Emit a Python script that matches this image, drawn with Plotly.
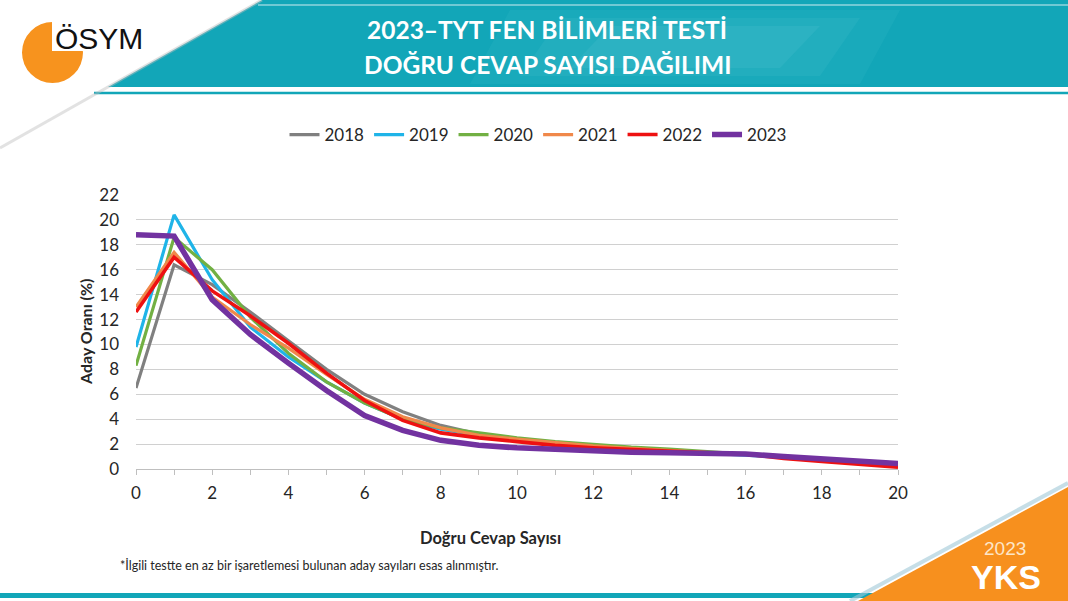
import plotly.graph_objects as go

# data
dogru_cevap = list(range(21))
yillar = ["2018", "2019", "2020", "2021", "2022", "2023"]
oran_2018 = [6.5, 16.4, 14.8, 12.6, 10.3, 8.0, 6.0, 4.6, 3.5, 2.8, 2.4, 2.1, 1.85, 1.65, 1.5, 1.35, 1.2, 1.0, 0.8, 0.55, 0.3]
oran_2019 = [9.8, 20.4, 15.2, 11.4, 9.0, 7.0, 5.3, 4.0, 3.2, 2.7, 2.35, 2.05, 1.8, 1.6, 1.45, 1.3, 1.15, 0.95, 0.75, 0.5, 0.25]
oran_2020 = [8.3, 18.6, 16.0, 12.2, 9.3, 7.0, 5.3, 4.0, 3.3, 2.9, 2.5, 2.2, 1.95, 1.75, 1.6, 1.4, 1.25, 1.0, 0.8, 0.55, 0.3]
oran_2021 = [13.0, 17.4, 13.8, 11.6, 9.7, 7.6, 5.6, 4.2, 3.3, 2.7, 2.4, 2.1, 1.85, 1.65, 1.5, 1.35, 1.2, 1.0, 0.75, 0.5, 0.25]
oran_2022 = [12.6, 17.0, 14.3, 12.3, 10.1, 7.7, 5.5, 3.9, 2.9, 2.5, 2.2, 1.9, 1.7, 1.55, 1.4, 1.3, 1.2, 0.85, 0.6, 0.35, 0.15]
oran_2023 = [18.8, 18.7, 13.6, 10.8, 8.5, 6.3, 4.3, 3.1, 2.3, 1.9, 1.7, 1.55, 1.45, 1.35, 1.3, 1.25, 1.2, 1.0, 0.85, 0.7, 0.45]
y_tickler = list(range(0, 23, 2))
x_tickler = list(range(0, 21, 2))

seriler = [oran_2018, oran_2019, oran_2020, oran_2021, oran_2022, oran_2023]
renkler = ["#808080", "#1FB4E8", "#72B043", "#F0884A", "#EE1111", "#7232A0"]
kalinliklar = [3.2, 3.2, 3.2, 3.2, 3.6, 5.5]

W, H = 1068, 601
L, R, T, B = 136, 898, 195, 469    # plot area in pixels

def px(x):
    return (x - L) / (R - L)

def py(y):
    return (B - y) / (B - T)

def poly(pts):
    return "M " + " L ".join(f"{px(a)},{py(b)}" for a, b in pts) + " Z"

fig = go.Figure()
for yil, seri, renk, lw in zip(yillar, seriler, renkler, kalinliklar):
    fig.add_trace(go.Scatter(x=dogru_cevap, y=seri, name=yil, mode="lines",
                             line=dict(color=renk, width=lw)))

shapes = []
# header banner
shapes.append(dict(type="path", xref="paper", yref="paper", layer="below",
                   path=poly([(262, 0), (W, 0), (W, 87), (108, 87)]),
                   fillcolor="#12A6B8", line=dict(width=0)))
for (a, b, c, d), op in [((470, 900, 10, 84), 0.06), ((520, 860, 18, 76), 0.07), ((570, 820, 26, 68), 0.08)]:
    shapes.append(dict(type="path", xref="paper", yref="paper", layer="below",
                       path=poly([(a + 40, c), (b, c), (b - 40, d), (a, d)]),
                       fillcolor=f"rgba(160,230,238,{op})", line=dict(width=0)))
shapes.append(dict(type="line", xref="paper", yref="paper", layer="below",
                   x0=px(258), y0=py(5), x1=px(W), y1=py(5),
                   line=dict(color="rgba(255,255,255,0.8)", width=1)))
shapes.append(dict(type="line", xref="paper", yref="paper", layer="below",
                   x0=px(94), y0=py(93), x1=px(W), y1=py(93),
                   line=dict(color="#12A6B8", width=2.5)))
# diagonal shadow
shapes.append(dict(type="line", xref="paper", yref="paper", layer="below",
                   x0=px(262), y0=py(0), x1=px(0), y1=py(148),
                   line=dict(color="rgba(190,190,190,0.45)", width=3)))
# logo
shapes.append(dict(type="circle", xref="paper", yref="paper", layer="below",
                   x0=px(22), y0=py(22), x1=px(83), y1=py(83),
                   fillcolor="#F7931E", line=dict(width=0)))
shapes.append(dict(type="rect", xref="paper", yref="paper", layer="below",
                   x0=px(52), y0=py(20), x1=px(90), y1=py(51),
                   fillcolor="white", line=dict(width=0)))
# bottom line and corner triangle
shapes.append(dict(type="rect", xref="paper", yref="paper", layer="below",
                   x0=px(0), y0=py(593), x1=px(880), y1=py(598),
                   fillcolor="#12A6B8", line=dict(width=0)))
shapes.append(dict(type="line", xref="paper", yref="paper", layer="below",
                   x0=px(850), y0=py(601), x1=px(W), y1=py(483),
                   line=dict(color="rgba(160,200,215,0.6)", width=4)))
shapes.append(dict(type="path", xref="paper", yref="paper", layer="below",
                   path=poly([(858, 601), (W, 487), (W, 601)]),
                   fillcolor="#F7901E", line=dict(width=0)))

def note(text, x, y, size, color="#262626", bold=False, family="Lato", xanchor="center", **kw):
    if bold:
        text = f"<b>{text}</b>"
    return dict(text=text, xref="paper", yref="paper", x=px(x), y=py(y), showarrow=False,
                xanchor=xanchor, yanchor="middle", font=dict(size=size, color=color, family=family), **kw)

annotations = [
    note("2023–TYT FEN BİLİMLERİ TESTİ", 547, 30, 24.5, color="white", bold=True),
    note("DOĞRU CEVAP SAYISI DAĞILIMI", 547, 64, 24.5, color="white", bold=True),
    note("ÖSYM", 53, 38, 30, color="#111111", family="Liberation Sans", xanchor="left"),
    note("Aday Oranı (%)", 85, 332, 16, bold=True, textangle=-90),
    note("Doğru Cevap Sayısı", 490, 538, 16.5, bold=True),
    note("*İlgili testte en az bir işaretlemesi bulunan aday sayıları esas alınmıştır.",
         118, 565, 12.5, xanchor="left"),
    note("2023", 1005, 548, 19, color="#FDE6C8", family="Liberation Sans"),
    note("YKS", 1006, 577, 34, color="white", bold=True, family="Liberation Sans"),
]

fig.update_layout(
    width=W, height=H, autosize=False,
    margin=dict(l=L, r=W - R, t=T, b=H - B, autoexpand=False),
    paper_bgcolor="white", plot_bgcolor="white",
    font=dict(family="Lato", color="#404040"),
    shapes=shapes, annotations=annotations,
    legend=dict(orientation="h", x=px(538), xanchor="center",
                y=py(135), yanchor="middle", font=dict(size=17, color="#262626"),
                itemwidth=30, bgcolor="rgba(0,0,0,0)"),
    xaxis=dict(range=[0, 20], tickvals=x_tickler, showgrid=False, zeroline=False,
               showline=True, linecolor="#BFBFBF", linewidth=1,
               ticks="outside", ticklen=5, tickcolor="#BFBFBF", ticklabelstandoff=4,
               minor=dict(dtick=1, ticks="outside", ticklen=5, tickcolor="#BFBFBF"),
               tickfont=dict(size=17, color="#262626"), fixedrange=True),
    yaxis=dict(range=[0, 22], tickvals=y_tickler, showgrid=True, gridcolor="#D0D0D0",
               zeroline=False, showline=False, ticks="", ticklabelstandoff=16,
               tickfont=dict(size=17, color="#262626"), fixedrange=True),
)

# page body without the default 8px margin so the figure fills the window
fig.write_html("out.html", config={"displayModeBar": False},
               post_script="document.body.style.margin='0';document.body.style.overflow='hidden';")
